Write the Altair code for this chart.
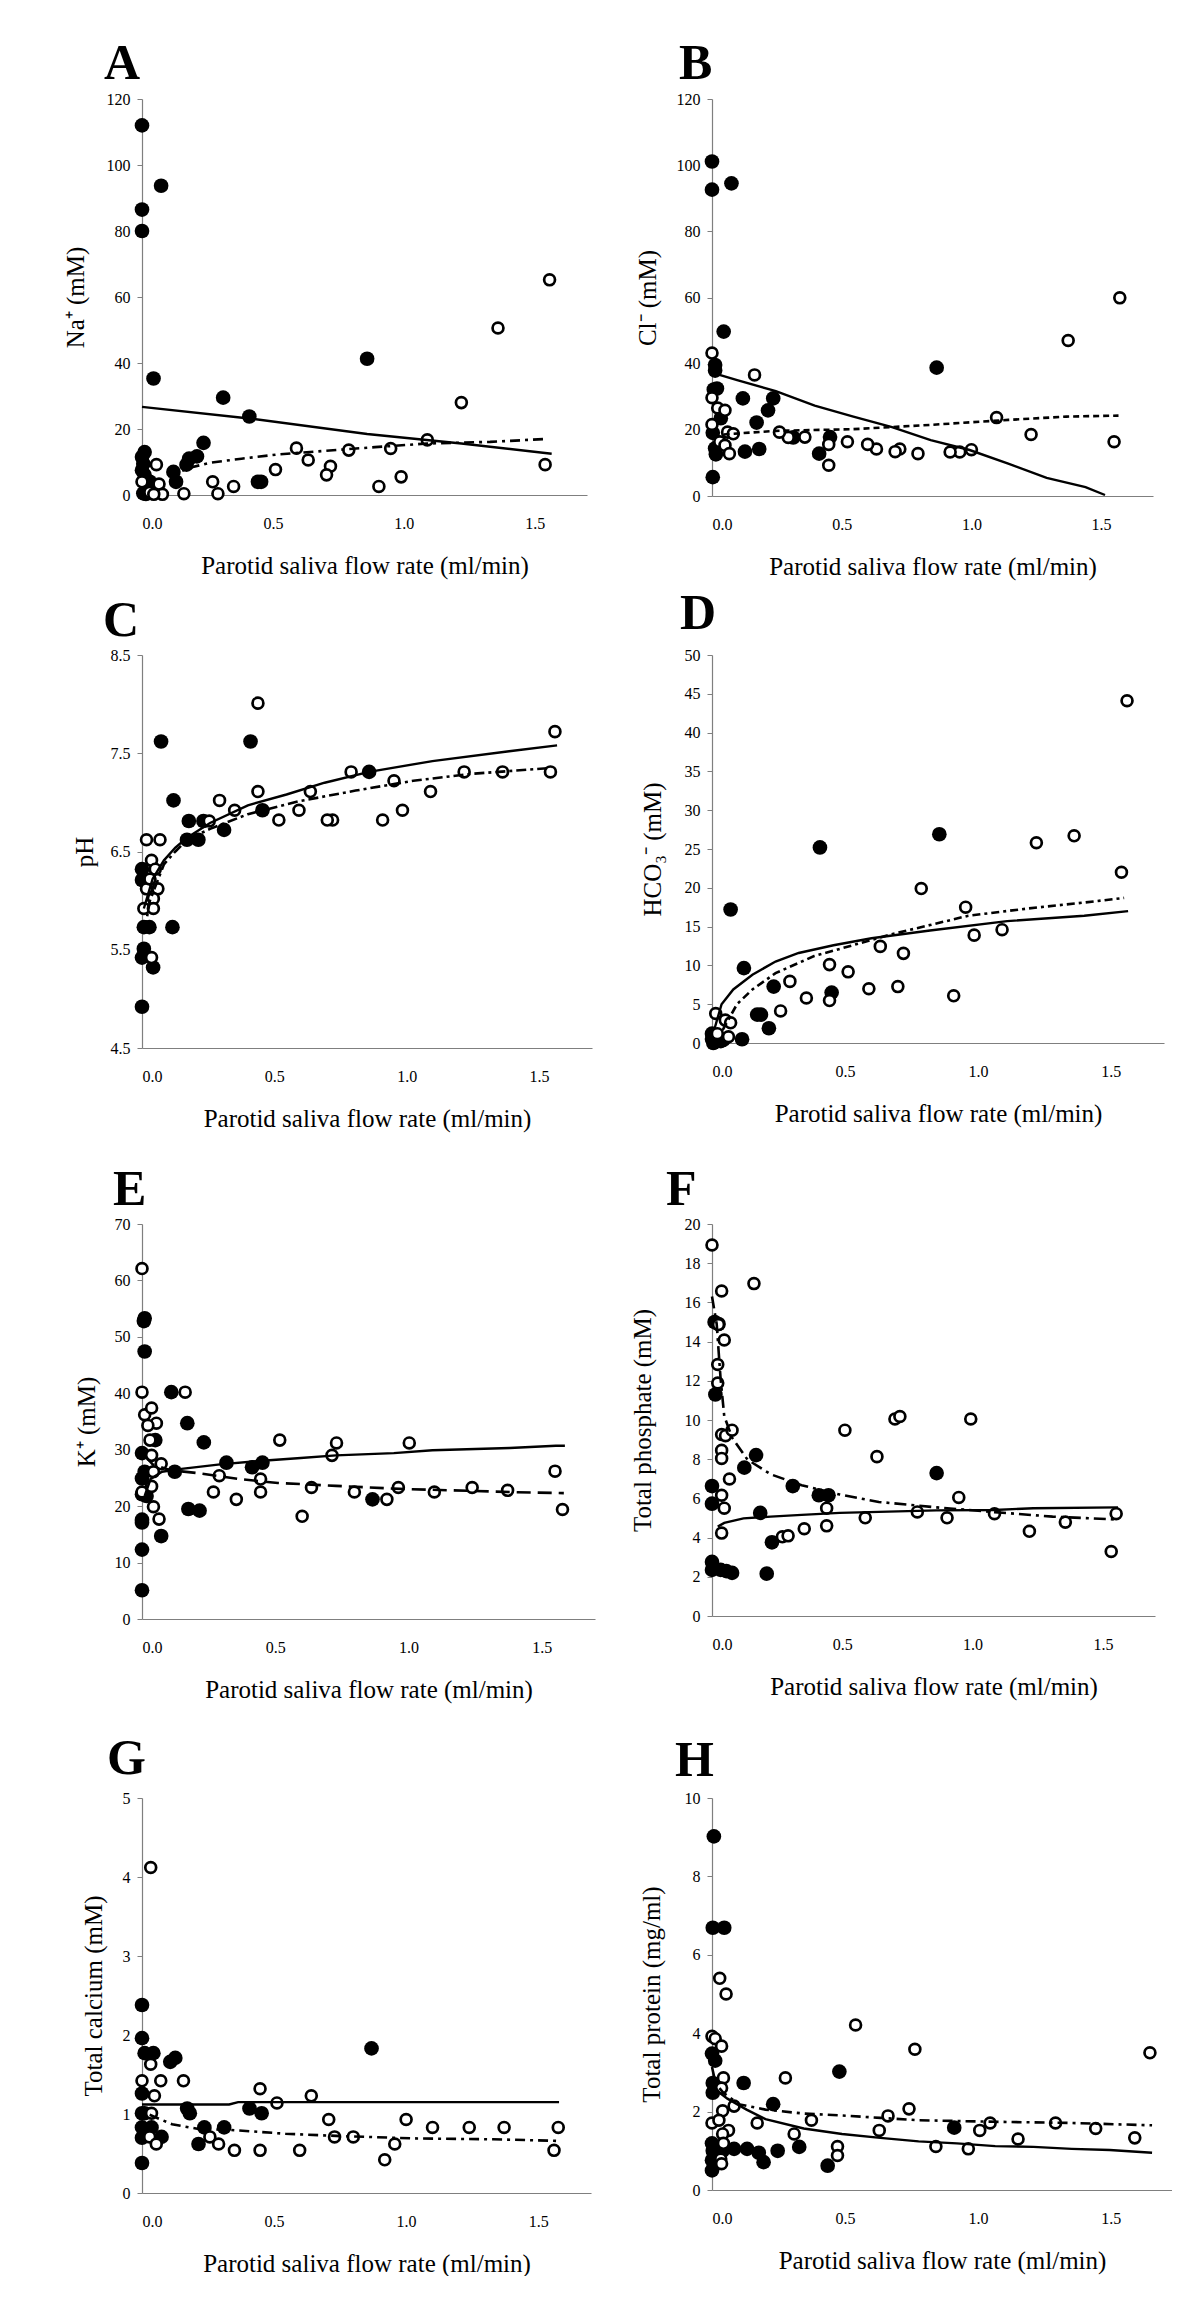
import altair as alt
import pandas as pd

FONT = "Liberation Serif"
XTITLE = "Parotid saliva flow rate (ml/min)"

# ---------------- Panel A : Na+
A_cl_x = [0, 0, 0, 0.073, 0.044, 0.86, 0.31, 0.41, 0.235, 0.21, 0.18, 0.17, 0.12, 0.13, 0.443, 0.455, 0.01, 0, 0.005, 0, 0.01, 0.03, 0.02, 0.005, 0.015]
A_cl_y = [112, 86.5, 80, 93.7, 35.3, 41.3, 29.5, 23.8, 15.8, 11.7, 11, 9.2, 7, 4, 4, 4, 13, 11.5, 9.5, 7.5, 6, 4, 2, 0.5, 0.3]
A_op_x = [1.557, 1.36, 1.22, 1.09, 0.95, 0.79, 0.59, 0.635, 0.72, 0.705, 0.99, 0.905, 1.54, 0.51, 0.35, 0.27, 0.29, 0.16, 0.055, 0.065, 0.078, 0.0, 0.03, 0.045]
A_op_y = [65.2, 50.6, 28, 16.7, 14.1, 13.6, 14.2, 10.6, 8.7, 6.1, 5.5, 2.6, 9.2, 7.7, 2.6, 4, 0.4, 0.4, 9.2, 3.3, 0.2, 4, 0.8, 0.2]
A_fc_x = [0, 0.41, 0.86, 1.22, 1.565]
A_fc_y = [26.7, 23.2, 18.5, 15.6, 12.5]
A_fo_x = [0.1, 0.19, 0.26, 0.38, 0.52, 0.67, 0.89, 1.09, 1.33, 1.55]
A_fo_y = [5.7, 8.4, 9.8, 11, 12.3, 13.2, 14.5, 15.6, 16.1, 17]

# ---------------- Panel B : Cl-
B_cl_x = [0, 0, 0.075, 0.045, 0.866, 0.012, 0.012, 0.007, 0.019, 0.119, 0.236, 0.216, 0.172, 0.034, 0.003, 0.012, 0.127, 0.182, 0.015, 0.003, 0.313, 0.455, 0.413]
B_cl_y = [101.1, 92.6, 94.5, 49.7, 38.8, 39.6, 37.9, 32.2, 32.5, 29.5, 29.5, 25.9, 22.2, 23.5, 19.1, 14.4, 13.4, 14.2, 12.6, 5.7, 17.7, 17.8, 12.8]
B_op_x = [1.572, 1.373, 1.097, 1.23, 1.55, 1.0, 0.955, 0.918, 0.794, 0.724, 0.706, 0.634, 0.6, 0.522, 0.45, 0.45, 0.358, 0.294, 0.26, 0.164, 0.0, 0.0, 0.022, 0.05, 0.0, 0.06, 0.082, 0.03, 0.05, 0.067]
B_op_y = [59.9, 47, 23.7, 18.6, 16.4, 14, 13.3, 13.3, 12.8, 14.2, 13.4, 14.2, 15.6, 16.4, 15.6, 9.3, 17.8, 17.7, 19.3, 36.6, 43.2, 29.7, 26.6, 25.9, 21.6, 19.3, 18.8, 16.4, 15.3, 12.8]
B_fc_x = [0.003, 0.097, 0.246, 0.396, 0.545, 0.694, 0.843, 0.993, 1.142, 1.29, 1.44, 1.515]
B_fc_y = [37.2, 35, 31.7, 27.3, 24, 20.8, 16.9, 13.9, 9.8, 5.5, 2.7, 0.3]
B_fo_x = [0.045, 0.246, 0.545, 0.843, 1.142, 1.366, 1.567]
B_fo_y = [18.6, 19.7, 20.2, 21.5, 23, 24, 24.3]

# ---------------- Panel C : pH
C_cl_x = [0, 0, 0.007, 0.042, 0.007, 0.028, 0, 0, 0.115, 0.072, 0.119, 0.177, 0.17, 0.213, 0.232, 0.31, 0.41, 0.455, 0.858]
C_cl_y = [4.92, 5.42, 5.51, 5.32, 5.73, 5.73, 6.21, 6.32, 5.73, 7.62, 7.02, 6.81, 6.62, 6.62, 6.81, 6.72, 7.62, 6.92, 7.31]
C_op_x = [0.438, 1.56, 1.543, 1.362, 1.217, 1.09, 0.952, 0.984, 0.909, 0.79, 0.72, 0.7, 0.636, 0.593, 0.517, 0.438, 0.35, 0.293, 0.254, 0.017, 0.068, 0.036, 0.05, 0.017, 0.06, 0.043, 0.007, 0.043, 0.03, 0.036]
C_op_y = [8.01, 7.72, 7.31, 7.31, 7.31, 7.11, 7.22, 6.92, 6.82, 7.31, 6.82, 6.82, 7.11, 6.92, 6.82, 7.11, 6.92, 7.02, 6.81, 6.62, 6.62, 6.41, 6.32, 6.12, 6.12, 6.02, 5.92, 5.92, 6.22, 5.42]
C_fc_x = [0.007, 0.04, 0.083, 0.126, 0.17, 0.257, 0.4, 0.546, 0.69, 0.858, 1.097, 1.387, 1.568]
C_fc_y = [5.92, 6.22, 6.41, 6.54, 6.64, 6.79, 6.97, 7.08, 7.2, 7.31, 7.42, 7.52, 7.58]
C_fo_x = [0.01, 0.03, 0.083, 0.126, 0.17, 0.257, 0.4, 0.59, 0.807, 1.025, 1.242, 1.546]
C_fo_y = [5.7, 6.0, 6.37, 6.5, 6.62, 6.73, 6.88, 7.01, 7.12, 7.22, 7.29, 7.35]

# ---------------- Panel D : HCO3-
D_cl_x = [0.07, 0.12, 0.406, 0.855, 0.232, 0.45, 0.17, 0.184, 0.214, 0.113, 0, 0, 0.005, 0.033, 0.043]
D_cl_y = [17.2, 9.65, 25.2, 26.9, 7.27, 6.5, 3.66, 3.66, 1.9, 0.48, 1.2, 0.5, 0, 0.24, 0.4]
D_op_x = [1.561, 1.362, 1.22, 1.54, 0.787, 0.954, 0.986, 1.091, 0.633, 0.72, 0.442, 0.512, 0.293, 0.59, 0.699, 0.909, 0.355, 0.442, 0.258, 0.014, 0.05, 0.07, 0.062, 0.02]
D_op_y = [44.1, 26.7, 25.8, 22, 19.9, 17.5, 13.9, 14.6, 12.45, 11.55, 10.1, 9.17, 7.94, 6.99, 7.27, 6.08, 5.8, 5.47, 4.13, 3.8, 2.95, 2.6, 0.8, 1.2]
D_fc_x = [0.01, 0.036, 0.08, 0.152, 0.239, 0.326, 0.457, 0.6, 0.82, 1.11, 1.4, 1.565]
D_fc_y = [1.9, 5, 6.9, 8.8, 10.5, 11.6, 12.6, 13.5, 14.5, 15.7, 16.4, 17]
D_fo_x = [0.04, 0.094, 0.152, 0.239, 0.384, 0.53, 0.674, 0.82, 0.964, 1.18, 1.4, 1.55]
D_fo_y = [1.66, 5, 6.9, 9, 11.2, 12.6, 14, 15.2, 16.4, 17.3, 18.1, 18.7]

# ---------------- Panel E : K+
E_cl_x = [0, 0, 0, 0, 0, 0, 0.01, 0.01, 0.007, 0.01, 0, 0.017, 0.05, 0.072, 0.11, 0.123, 0.17, 0.174, 0.216, 0.232, 0.317, 0.413, 0.452, 0.865]
E_cl_y = [5.1, 12.3, 17.6, 17.1, 29.4, 24.9, 26.1, 53.3, 52.8, 47.4, 22.1, 21.8, 31.7, 14.7, 40.2, 26.1, 34.7, 19.5, 19.2, 31.3, 27.7, 26.9, 27.7, 21.2]
E_op_x = [0, 0, 0.01, 0.036, 0.054, 0.022, 0.03, 0.036, 0.072, 0.043, 0, 0.036, 0.043, 0.064, 0.162, 0.29, 0.268, 0.354, 0.445, 0.445, 0.517, 0.601, 0.636, 0.713, 0.73, 0.797, 0.919, 0.962, 1.003, 1.097, 1.239, 1.372, 1.55, 1.578]
E_op_y = [62.1, 40.2, 36.2, 37.4, 34.7, 34.3, 31.7, 29, 27.5, 26.1, 22.5, 23.5, 19.9, 17.7, 40.2, 25.4, 22.5, 21.2, 24.8, 22.5, 31.7, 18.2, 23.3, 29, 31.2, 22.5, 21.2, 23.3, 31.2, 22.5, 23.3, 22.8, 26.2, 19.4]
E_fc_x = [0.01, 0.032, 0.075, 0.148, 0.293, 0.438, 0.583, 0.728, 0.945, 1.09, 1.38, 1.553, 1.587]
E_fc_y = [21.8, 24.8, 26.1, 26.6, 27.4, 28, 28.5, 29, 29.4, 29.9, 30.3, 30.7, 30.7]
E_fo_x = [0.01, 0.04, 0.104, 0.22, 0.365, 0.51, 0.728, 0.945, 1.162, 1.38, 1.583]
E_fo_y = [29, 27.4, 26.4, 25.8, 24.8, 24.1, 23.6, 23.1, 22.8, 22.5, 22.3]

# ---------------- Panel F : Total phosphate
F_cl_x = [0.01, 0.025, 0.013, 0, 0, 0, 0, 0.033, 0.055, 0.077, 0.124, 0.169, 0.185, 0.21, 0.23, 0.31, 0.41, 0.447, 0.862]
F_cl_y = [15.0, 14.9, 11.3, 6.63, 5.73, 2.76, 2.35, 2.35, 2.29, 2.2, 7.57, 8.21, 5.26, 2.16, 3.76, 6.63, 6.16, 6.16, 7.29]
F_op_x = [0, 0.037, 0.161, 0.025, 0.047, 0.022, 0.022, 0.037, 0.052, 0.077, 0.037, 0.037, 0.067, 0.037, 0.047, 0.037, 0.51, 0.633, 0.702, 0.721, 0.993, 0.947, 0.44, 0.44, 0.354, 0.27, 0.292, 0.588, 0.788, 0.902, 1.084, 1.218, 1.356, 1.551, 1.532]
F_op_y = [18.93, 16.58, 16.96, 14.87, 14.08, 12.83, 11.89, 9.26, 9.2, 9.48, 8.45, 8.04, 6.99, 6.16, 5.5, 4.23, 9.48, 8.13, 10.05, 10.18, 10.05, 6.05, 5.5, 4.6, 4.45, 4.04, 4.09, 5.01, 5.31, 5.01, 5.22, 4.32, 4.79, 5.22, 3.29]
F_fc_x = [0.022, 0.047, 0.121, 0.225, 0.344, 0.49, 0.64, 0.862, 1.084, 1.233, 1.558]
F_fc_y = [4.56, 4.75, 4.98, 5.07, 5.16, 5.26, 5.31, 5.39, 5.41, 5.5, 5.54]
F_fo_x = [0, 0.018, 0.033, 0.047, 0.077, 0.136, 0.225, 0.344, 0.49, 0.64, 0.862, 1.084, 1.307, 1.558]
F_fo_y = [16.3, 14.9, 12.1, 10.2, 9.1, 7.98, 7.23, 6.67, 6.2, 5.82, 5.54, 5.3, 5.07, 4.92]

# ---------------- Panel G : Total calcium
G_cl_x = [0, 0, 0, 0.01, 0.043, 0, 0, 0.01, 0, 0.036, 0, 0.074, 0.107, 0.126, 0.171, 0.181, 0.236, 0.214, 0.311, 0.407, 0.453, 0.869]
G_cl_y = [2.38, 0.38, 1.96, 1.77, 1.77, 1.26, 1.01, 1.01, 0.83, 0.83, 0.7, 0.71, 1.66, 1.71, 1.07, 1.01, 0.83, 0.62, 0.83, 1.07, 1.01, 1.83]
G_op_x = [0.033, 0, 0.033, 0.071, 0.047, 0.036, 0.029, 0.054, 0.157, 0.257, 0.29, 0.35, 0.447, 0.447, 0.511, 0.597, 0.641, 0.707, 0.729, 0.8, 0.919, 0.957, 1.0, 1.1, 1.239, 1.371, 1.576, 1.56]
G_op_y = [4.12, 1.42, 1.63, 1.42, 1.23, 1.01, 0.71, 0.62, 1.42, 0.71, 0.62, 0.54, 1.32, 0.54, 1.14, 0.54, 1.23, 0.93, 0.71, 0.71, 0.42, 0.62, 0.93, 0.83, 0.83, 0.83, 0.83, 0.54]
G_fc_x = [0, 0.33, 0.364, 1.579]
G_fc_y = [1.12, 1.12, 1.15, 1.15]
G_fo_x = [0.029, 0.114, 0.214, 0.329, 0.543, 0.757, 1.043, 1.329, 1.571]
G_fo_y = [0.99, 0.87, 0.81, 0.8, 0.75, 0.72, 0.69, 0.68, 0.66]

# ---------------- Panel H : Total protein
H_cl_x = [0.007, 0.003, 0.046, 0, 0.012, 0.003, 0.003, 0.014, 0.119, 0.23, 0.479, 0.911, 0, 0.003, 0.014, 0, 0.0, 0.04, 0.083, 0.132, 0.176, 0.194, 0.247, 0.328, 0.435]
H_cl_y = [9.02, 6.69, 6.69, 3.48, 3.3, 2.73, 2.48, 2.62, 2.73, 2.19, 3.02, 1.59, 1.19, 1.0, 1.0, 0.76, 0.5, 1.0, 1.05, 1.05, 0.95, 0.71, 1.0, 1.1, 0.62]
H_op_x = [0, 0.012, 0.036, 0.029, 0.053, 0.043, 0.036, 0.04, 0, 0.026, 0.062, 0.04, 0.043, 0.033, 0.036, 0.083, 0.17, 0.276, 0.309, 0.374, 0.54, 0.472, 0.472, 0.629, 0.662, 0.741, 0.763, 0.842, 0.964, 1.007, 1.046, 1.151, 1.292, 1.443, 1.59, 1.647]
H_op_y = [3.92, 3.86, 3.67, 5.4, 5.0, 2.86, 2.6, 2.02, 1.71, 1.78, 1.52, 1.43, 1.19, 0.79, 0.67, 2.14, 1.71, 2.86, 1.43, 1.78, 4.21, 1.11, 0.88, 1.52, 1.89, 2.07, 3.59, 1.11, 1.05, 1.52, 1.71, 1.3, 1.71, 1.57, 1.33, 3.5]
H_fc_x = [0, 0.029, 0.058, 0.13, 0.201, 0.345, 0.489, 0.633, 0.777, 0.921, 1.065, 1.209, 1.353, 1.496, 1.655]
H_fc_y = [2.71, 2.48, 2.33, 2.05, 1.81, 1.57, 1.43, 1.33, 1.24, 1.19, 1.12, 1.1, 1.05, 1.02, 0.95]
H_fo_x = [0, 0.014, 0.043, 0.1, 0.201, 0.345, 0.489, 0.633, 0.777, 1.065, 1.353, 1.655]
H_fo_y = [3.14, 2.71, 2.48, 2.19, 2.05, 1.95, 1.9, 1.84, 1.78, 1.74, 1.71, 1.65]

AXIS_COLOR = "#7f7f7f"


def df(xs, ys):
    return pd.DataFrame({"x": xs, "y": ys})


def panel(letter, ytitle, ydom, yvals, yfmt, xmax, w, h, cl, op, fc, fo, dash, ytoff, ldx, lgap):
    xsc = alt.Scale(domain=[0, xmax], nice=False, zero=False)
    ysc = alt.Scale(domain=ydom, nice=False, zero=False)
    xax = alt.Axis(values=[0, 0.5, 1.0, 1.5], format=".1f", title=XTITLE, grid=False,
                   ticks=False, domainColor=AXIS_COLOR, domainWidth=1.2,
                   labelFont=FONT, labelFontSize=16, labelColor="black", labelPadding=20,
                   titleFont=FONT, titleFontSize=25, titleFontWeight="normal",
                   titleColor="black", titlePadding=22)
    yax = alt.Axis(values=yvals, format=yfmt, title=ytitle, grid=False,
                   tickSize=5, tickColor=AXIS_COLOR, domainColor=AXIS_COLOR, domainWidth=1.2,
                   labelFont=FONT, labelFontSize=16, labelColor="black", labelPadding=7,
                   titleFont=FONT, titleFontSize=25, titleFontWeight="normal",
                   titleColor="black", titleAngle=270, titleX=-ytoff, titleY=h / 2,
                   titleAlign="center", titleBaseline="middle")
    enc = dict(x=alt.X("x:Q", scale=xsc, axis=xax), y=alt.Y("y:Q", scale=ysc, axis=yax))
    closed = alt.Chart(df(*cl)).mark_circle(size=215, color="black", opacity=1).encode(**enc)
    opened = alt.Chart(df(*op)).mark_point(shape="circle", size=118, filled=True, fill="white",
                                           stroke="black", strokeWidth=2.7, opacity=1).encode(**enc)
    lc = alt.Chart(df(*fc)).mark_line(color="black", strokeWidth=2.4).encode(**enc)
    lo = alt.Chart(df(*fo)).mark_line(color="black", strokeWidth=2.6, strokeDash=dash).encode(**enc)
    lab = alt.Chart(pd.DataFrame({"t": [letter]})).mark_text(
        font=FONT, fontSize=50, fontWeight="bold", color="black", align="left",
        baseline="alphabetic").encode(x=alt.value(ldx), y=alt.value(-lgap), text="t:N")
    return alt.layer(closed, opened, lc, lo, lab).properties(width=w, height=h)


def spacer(w, h):
    return alt.Chart(pd.DataFrame({"v": [0]})).mark_point(opacity=0).encode(
        x=alt.value(0), y=alt.value(0)).properties(width=max(1, int(w)), height=max(1, int(h)))


# placement of each panel's plot area on the page: x, top, width, height
POS = {
    "A": (132, 96, 445, 396), "B": (690, 96, 441, 397),
    "C": (131, 645, 450, 393), "D": (689, 652, 452, 388),
    "E": (133, 1214, 453, 395), "F": (703, 1214, 443, 392),
    "G": (139, 1788, 449, 395), "H": (699, 1784, 460, 392),
}

pA = panel("A", "Na⁺ (mM)", [0, 120], list(range(0, 121, 20)), "d", 1.7, POS["A"][2], POS["A"][3],
           (A_cl_x, A_cl_y), (A_op_x, A_op_y), (A_fc_x, A_fc_y), (A_fo_x, A_fo_y), [10, 5, 3, 5], 67, -38, 20)
pB = panel("B", "Cl⁻ (mM)", [0, 120], list(range(0, 121, 20)), "d", 1.7, POS["B"][2], POS["B"][3],
           (B_cl_x, B_cl_y), (B_op_x, B_op_y), (B_fc_x, B_fc_y), (B_fo_x, B_fo_y), [6, 4], 65, -33, 20)
pC = panel("C", "pH", [4.5, 8.5], [4.5, 5.5, 6.5, 7.5, 8.5], ".1f", 1.7, POS["C"][2], POS["C"][3],
           (C_cl_x, C_cl_y), (C_op_x, C_op_y), (C_fc_x, C_fc_y), (C_fo_x, C_fo_y), [10, 4, 3, 4], 58, -39, 19)
pD = panel("D", "HCO₃⁻ (mM)", [0, 50], list(range(0, 51, 5)), "d", 1.7, POS["D"][2], POS["D"][3],
           (D_cl_x, D_cl_y), (D_op_x, D_op_y), (D_fc_x, D_fc_y), (D_fo_x, D_fo_y), [8, 4, 3, 4], 60, -32, 26)
pE = panel("E", "K⁺ (mM)", [0, 70], list(range(0, 71, 10)), "d", 1.7, POS["E"][2], POS["E"][3],
           (E_cl_x, E_cl_y), (E_op_x, E_op_y), (E_fc_x, E_fc_y), (E_fo_x, E_fo_y), [14, 7], 56, -29, 19)
pF = panel("F", "Total phosphate (mM)", [0, 20], list(range(0, 21, 2)), "d", 1.7, POS["F"][2], POS["F"][3],
           (F_cl_x, F_cl_y), (F_op_x, F_op_y), (F_fc_x, F_fc_y), (F_fo_x, F_fo_y), [12, 5, 3, 5], 70, -46, 19)
pG = panel("G", "Total calcium (mM)", [0, 5], list(range(0, 6)), "d", 1.7, POS["G"][2], POS["G"][3],
           (G_cl_x, G_cl_y), (G_op_x, G_op_y), (G_fc_x, G_fc_y), (G_fo_x, G_fo_y), [10, 5, 3, 5], 49, -35, 24)
pH = panel("H", "Total protein (mg/ml)", [0, 10], list(range(0, 11, 2)), "d", 1.73, POS["H"][2], POS["H"][3],
           (H_cl_x, H_cl_y), (H_op_x, H_op_y), (H_fc_x, H_fc_y), (H_fo_x, H_fo_y), [10, 5, 3, 5], 61, -37, 22)

rows = [((pA, *POS["A"]), (pB, *POS["B"])),
        ((pC, *POS["C"]), (pD, *POS["D"])),
        ((pE, *POS["E"]), (pF, *POS["F"])),
        ((pG, *POS["G"]), (pH, *POS["H"]))]

ORIGIN = 8
cells = []
bottom_l = ORIGIN
bottom_r = ORIGIN
for L, R in rows:
    ch_l, xl, tl, wl, hl = L
    ch_r, xr, tr, wr, hr = R
    # vertical gap row (each column flows independently with align="none")
    cells += [spacer(1, 1), spacer(1, tl - bottom_l), spacer(1, 1), spacer(1, tr - bottom_r)]
    # panel row
    cells += [spacer(xl - ORIGIN, 1), ch_l, spacer(xr - (xl + wl), 1), ch_r]
    bottom_l = tl + hl
    bottom_r = tr + hr
cells += [spacer(1, 1), spacer(1, 80), spacer(1, 1), spacer(1, 80)]

chart = alt.concat(*cells, columns=4, spacing=0, bounds="flush", align="none").properties(
    padding=0, background="white"
).configure_view(strokeWidth=0)

chart.save("out.html", embed_options={"renderer": "svg", "actions": False})
